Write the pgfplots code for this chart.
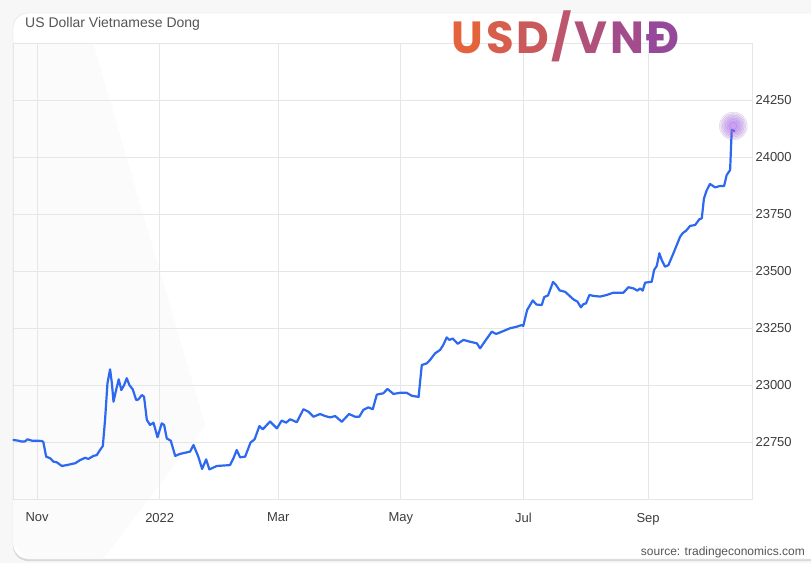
\documentclass[border=0pt]{standalone}
\usepackage{pgfplots}
\pgfplotsset{compat=1.18}
\usepackage{fontspec}
\setmainfont{Liberation Sans}
\newfontfamily\popfont{Poppins}
\usetikzlibrary{shadows}
\definecolor{linecol}{RGB}{45,105,240}
\definecolor{gridcol}{RGB}{230,230,230}
\definecolor{glowcol}{RGB}{180,110,245}
\definecolor{titlegray}{RGB}{85,85,85}
\definecolor{tickgray}{RGB}{60,60,60}
\definecolor{cA}{RGB}{228,98,60}
\definecolor{cB}{RGB}{215,94,76}
\definecolor{cC}{RGB}{202,89,92}
\definecolor{cD}{RGB}{189,85,108}
\definecolor{cE}{RGB}{176,81,123}
\definecolor{cF}{RGB}{163,76,139}
\definecolor{cG}{RGB}{150,72,155}
\pgfplotsset{glow/.style={only marks, mark=*, mark size=#1, mark options={draw=none, fill=glowcol, opacity=0.12}}}
\begin{document}
\begin{tikzpicture}
\path[use as bounding box] (0pt,0pt) rectangle (811pt,563pt);
\fill[gray!6] (0pt,0pt) rectangle (811pt,563pt);
\fill[white, rounded corners=15pt, drop shadow={shadow xshift=0pt, shadow yshift=-2pt, opacity=0.25}] (13pt,4pt) rectangle (840pt,550pt);
\draw[gray!25, rounded corners=15pt] (13pt,4pt) rectangle (840pt,550pt);
\fill[gray!3] (13pt,520pt) -- (93pt,520pt) -- (205pt,138pt) -- (103pt,4pt) -- (28pt,4pt) -- (13pt,19pt) -- cycle;
\begin{axis}[
  at={(13pt,63.5pt)}, anchor=south west,
  scale only axis, width=739pt, height=456pt,
  xmin=-12, xmax=355.7, ymin=22500, ymax=24500,
  axis line style={draw=gridcol, line width=0.8pt},
  grid=major, major grid style={draw=gridcol, line width=0.8pt},
  xtick={0,61,120,181,242,304},
  xticklabels={Nov,2022,Mar,May,Jul,Sep},
  ytick={22750,23000,23250,23500,23750,24000,24250},
  scaled y ticks=false,
  yticklabel pos=right,
  tick style={draw=none},
  /pgf/number format/assume math mode=true,
  ticklabel style={font=\fontsize{13}{15}\selectfont, text=tickgray},
  yticklabel style={anchor=west, xshift=0pt, /pgf/number format/fixed, /pgf/number format/precision=0, /pgf/number format/1000 sep={}},
  xticklabel style={yshift=-10pt},
  clip=false,
]
\addplot[glow=14pt] coordinates {(346.4,24138)};
\addplot[glow=12.5pt] coordinates {(346.4,24138)};
\addplot[glow=11pt] coordinates {(346.4,24138)};
\addplot[glow=9.5pt] coordinates {(346.4,24138)};
\addplot[glow=8pt] coordinates {(346.4,24138)};
\addplot[glow=6.5pt] coordinates {(346.4,24138)};
\addplot[glow=5pt] coordinates {(346.4,24138)};
\addplot[glow=3.5pt] coordinates {(346.4,24138)};
\addplot[linecol, line width=2.2pt, line join=round, line cap=round] coordinates {
(-11.8,22761) (-9.3,22758) (-7.6,22754) (-6.0,22755) (-4.8,22764) (-2.6,22758) (2.3,22757) (3.1,22752) (4.5,22688) (6.5,22681) (8.1,22666) (9.8,22663) (12.3,22647) (14.8,22651) (17.3,22656) (18.9,22659) (21.4,22673) (23.9,22683) (25.5,22678) (28.0,22691) (29.7,22695) (31.3,22717) (32.7,22735) (33.8,22849) (35.0,23010) (36.3,23071) (37.2,23010) (38.0,22929) (39.3,22980) (40.6,23027) (41.9,22980) (43.3,23002) (44.6,23032) (45.9,23002) (47.6,22983) (49.3,22936) (50.4,22939) (52.1,22958) (53.2,22951) (54.6,22849) (56.2,22827) (57.9,22837) (59.9,22773) (62.0,22834) (63.2,22827) (64.5,22768) (66.5,22758) (68.7,22691) (71.1,22700) (73.6,22705) (76.1,22710) (77.8,22739) (80.2,22688) (82.1,22634) (84.1,22676) (85.7,22632) (89.4,22647) (96.0,22651) (97.7,22681) (99.3,22717) (101.0,22685) (103.5,22688) (106.2,22750) (108.2,22764) (110.6,22822) (112.3,22808) (115.9,22842) (119.3,22812) (121.7,22846) (123.9,22837) (125.9,22852) (129.2,22839) (132.5,22896) (135.0,22885) (137.5,22863) (140.8,22875) (143.3,22866) (145.8,22860) (148.3,22866) (151.6,22841) (155.2,22875) (158.2,22863) (160.3,22863) (162.3,22893) (164.8,22904) (167.0,22896) (169.0,22960) (172.3,22966) (174.3,22985) (177.3,22963) (180.6,22968) (183.9,22968) (186.4,22955) (189.8,22950) (191.4,23090) (193.9,23097) (195.5,23112) (198.0,23141) (200.5,23156) (202.1,23178) (203.8,23211) (205.1,23200) (206.8,23206) (209.3,23183) (212.1,23200) (215.4,23192) (218.8,23185) (220.4,23163) (222.9,23195) (226.2,23236) (228.4,23226) (231.2,23236) (235.3,23251) (238.7,23258) (241.1,23265) (241.9,23261) (243.8,23331) (246.6,23373) (248.5,23355) (251.1,23353) (252.3,23388) (254.2,23395) (256.7,23454) (258.0,23443) (260.0,23417) (262.7,23411) (266.8,23378) (268.8,23368) (270.6,23343) (271.8,23357) (273.1,23360) (274.8,23397) (276.8,23393) (280.1,23390) (283.4,23397) (286.7,23407) (291.7,23407) (294.2,23431) (296.7,23426) (298.7,23416) (300.0,23426) (301.3,23416) (302.5,23451) (305.8,23455) (307.0,23507) (308.3,23524) (309.6,23580) (310.8,23550) (312.4,23521) (314.1,23528) (316.6,23580) (319.9,23652) (321.2,23668) (322.9,23679) (324.9,23700) (327.4,23704) (329.5,23729) (330.7,23733) (331.8,23821) (333.2,23857) (334.8,23884) (337.3,23869) (339.8,23875) (341.8,23875) (343.1,23923) (344.8,23945) (345.6,24121) (347.0,24116)
};
\end{axis}
\node[anchor=base west, inner sep=0pt, text=titlegray, font=\fontsize{14}{16}\selectfont] at (25pt,535.3pt) {US Dollar Vietnamese Dong};
\node[anchor=base west, inner sep=0pt, font=\popfont\bfseries\fontsize{45}{50}\selectfont] at (451.7pt,509.7pt) {\textcolor{cA}{U}\hspace{2.6pt}\textcolor{cB}{S}\hspace{2.6pt}\textcolor{cC}{D}\hspace{2.6pt}\textcolor{cD}{/}\hspace{2.6pt}\textcolor{cE}{V}\hspace{2.6pt}\textcolor{cF}{N}\hspace{2.6pt}\textcolor{cG}{Đ}};
\node[anchor=base east, inner sep=0pt, text=titlegray, font=\fontsize{12}{14}\selectfont] at (805pt,8pt) {source: tradingeconomics.com};
\end{tikzpicture}
\end{document}
